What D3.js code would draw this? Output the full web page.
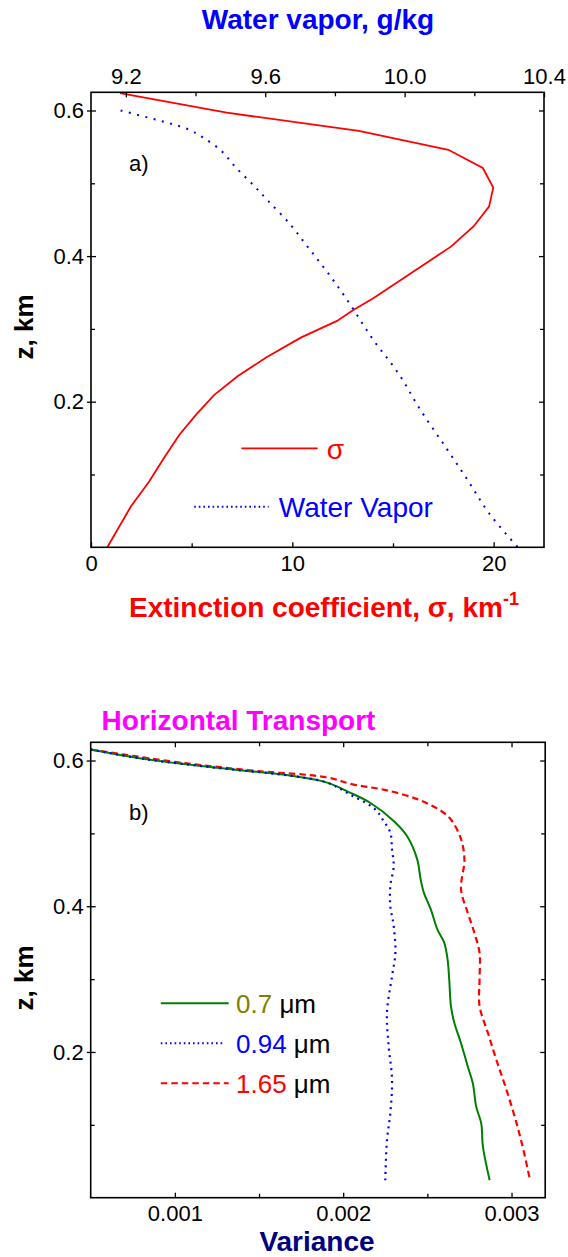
<!DOCTYPE html>
<html><head><meta charset="utf-8">
<script src="https://cdn.jsdelivr.net/npm/d3@7"></script>
<style>
html,body{margin:0;padding:0;background:#fff;}
svg{display:block;font-family:"Liberation Sans",Arial,sans-serif;}
</style></head>
<body>
<svg id="chart" width="568" height="1257"></svg>
<script>
// ---------- Panel a) data ----------
const sigmaZ   = [0.624,0.597,0.572,0.546,0.521,0.494,0.468,0.441,0.413,0.390,0.342,0.326,0.311,0.288,0.261,0.235,0.209,0.182,0.155,0.125,0.090,0.056,0.0];
const sigmaVal = [1.44,6.74,13.30,17.75,19.46,19.98,19.77,19.01,17.88,16.62,14.02,13.03,12.22,10.42,8.72,7.28,6.11,5.21,4.40,3.68,2.88,1.98,0.81];
const vaporZ   = [0.600,0.586,0.574,0.563,0.545,0.522,0.497,0.476,0.444,0.412,0.380,0.342,0.285,0.239,0.189,0.138,0.093,0.047,0.0];
const vaporVal = [9.185,9.297,9.380,9.421,9.473,9.515,9.567,9.608,9.671,9.723,9.775,9.832,9.910,9.982,10.045,10.117,10.180,10.242,10.325];
const sigmaTicks = [0,10,20], sigmaMinor = [5,15];
const vaporTicks = [9.2,9.6,10.0,10.4], vaporMinor = [9.4,9.8,10.2];
const zTicks = [0.2,0.4,0.6], zMinor = [0.1,0.3,0.5];

// ---------- Panel b) data ----------
const z07   = [0.615,0.602,0.590,0.579,0.570,0.556,0.542,0.517,0.496,0.464,0.437,0.418,0.396,0.368,0.350,0.327,0.299,0.263,0.240,0.212,0.180,0.157,0.125,0.102,0.070,0.024];
const var07 = [0.00050,0.00082,0.00125,0.00169,0.00190,0.00204,0.00216,0.00230,0.00238,0.00244,0.00246,0.00248,0.00252,0.00256,0.00260,0.00262,0.00263,0.00264,0.00266,0.00270,0.00274,0.00277,0.00279,0.00282,0.00283,0.00287];
const z094   = [0.615,0.602,0.590,0.579,0.570,0.5535,0.533,0.517,0.501,0.478,0.455,0.428,0.400,0.373,0.336,0.304,0.254,0.208,0.162,0.116,0.079,0.024];
const var094 = [0.00050,0.00082,0.00125,0.00169,0.00190,0.00204,0.00219,0.00224,0.00228,0.00229,0.00230,0.00228,0.00228,0.00230,0.00231,0.00229,0.00226,0.00227,0.00229,0.00228,0.00226,0.00225];
const z165   = [0.615,0.597,0.586,0.577,0.567,0.560,0.547,0.531,0.519,0.492,0.464,0.423,0.391,0.363,0.336,0.299,0.263,0.226,0.189,0.148,0.102,0.066,0.024];
const var165 = [0.00050,0.00104,0.00147,0.00190,0.00206,0.00224,0.00244,0.00258,0.00264,0.00270,0.00272,0.00270,0.00274,0.00278,0.00281,0.00281,0.00281,0.00286,0.00291,0.00297,0.00303,0.00307,0.00311];
const varTicks = [0.001,0.002,0.003], varMinor = [0.0015,0.0025];
const legendLabels = ["0.7","0.94","1.65"];

const svg = d3.select("#chart");
const FONT_TICK = 22;

function drawAxes(g, opts){
  const {x, y, xTicks, xMinor, xFmt, topScale, topTicks, topMinor, topFmt} = opts;
  const [x0,x1] = x.range(), [y0,y1] = y.range(); // y0 bottom, y1 top
  const hide = s => s.select(".domain").remove();
  const styleLbl = s => s.selectAll("text").attr("font-size",FONT_TICK).attr("font-family","'Liberation Sans',Arial,sans-serif").attr("fill","#000");
  const styleTick = s => s.selectAll("line").attr("stroke","#000").attr("stroke-width",1.3);
  // bottom
  g.append("g").attr("transform",`translate(0,${y0})`)
    .call(d3.axisBottom(x).tickValues(xTicks).tickFormat(xFmt).tickSizeInner(-5).tickSizeOuter(0).tickPadding(8))
    .call(hide).call(styleLbl).call(styleTick);
  g.append("g").attr("transform",`translate(0,${y0})`)
    .call(d3.axisBottom(x).tickValues(xMinor).tickFormat("").tickSizeInner(-4).tickSizeOuter(0))
    .call(hide).call(styleTick);
  // top
  if (topScale){
    g.append("g").attr("transform",`translate(0,${y1})`)
      .call(d3.axisTop(topScale).tickValues(topTicks).tickFormat(topFmt).tickSizeInner(-5).tickSizeOuter(0).tickPadding(8))
      .call(hide).call(styleLbl).call(styleTick);
    g.append("g").attr("transform",`translate(0,${y1})`)
      .call(d3.axisTop(topScale).tickValues(topMinor).tickFormat("").tickSizeInner(-4).tickSizeOuter(0))
      .call(hide).call(styleTick);
  } else {
    g.append("g").attr("transform",`translate(0,${y1})`)
      .call(d3.axisTop(x).tickValues(xTicks).tickFormat("").tickSizeInner(-5).tickSizeOuter(0))
      .call(hide).call(styleTick);
    g.append("g").attr("transform",`translate(0,${y1})`)
      .call(d3.axisTop(x).tickValues(xMinor).tickFormat("").tickSizeInner(-4).tickSizeOuter(0))
      .call(hide).call(styleTick);
  }
  // left
  g.append("g").attr("transform",`translate(${x0},0)`)
    .call(d3.axisLeft(y).tickValues(zTicks).tickFormat(d3.format(".1f")).tickSizeInner(4).tickSizeOuter(0).tickPadding(3))
    .call(hide).call(styleLbl).call(styleTick);
  g.append("g").attr("transform",`translate(${x0},0)`)
    .call(d3.axisLeft(y).tickValues(zTicks).tickFormat("").tickSizeInner(-5).tickSizeOuter(0))
    .call(hide).call(styleTick);
  g.append("g").attr("transform",`translate(${x0},0)`)
    .call(d3.axisLeft(y).tickValues(zMinor).tickFormat("").tickSizeInner(-4).tickSizeOuter(0))
    .call(hide).call(styleTick);
  // right
  g.append("g").attr("transform",`translate(${x1},0)`)
    .call(d3.axisRight(y).tickValues(zTicks).tickFormat("").tickSizeInner(-5).tickSizeOuter(0))
    .call(hide).call(styleTick);
  g.append("g").attr("transform",`translate(${x1},0)`)
    .call(d3.axisRight(y).tickValues(zMinor).tickFormat("").tickSizeInner(-4).tickSizeOuter(0))
    .call(hide).call(styleTick);
  // frame
  g.append("rect").attr("x",x0).attr("y",y1).attr("width",x1-x0).attr("height",y0-y1)
    .attr("fill","none").attr("stroke","#000").attr("stroke-width",1.6);
}

// ================= Panel a =================
const xS = d3.scaleLinear().domain([0,22.5]).range([91,544]);
const xW = d3.scaleLinear().domain([9.1,10.4]).range([91,544]);
const yA = d3.scaleLinear().domain([0,0.625]).range([547.3,92.3]);
const gA = svg.append("g");

const lineSigma = d3.line().x(d=>xS(d[0])).y(d=>yA(d[1]));
gA.append("path").datum(sigmaVal.map((v,i)=>[v,sigmaZ[i]]))
  .attr("d",lineSigma).attr("fill","none").attr("stroke","#ff0000").attr("stroke-width",1.8);
const lineVapor = d3.line().x(d=>xW(d[0])).y(d=>yA(d[1])).curve(d3.curveCatmullRom);
gA.append("path").datum(vaporVal.map((v,i)=>[v,vaporZ[i]]))
  .attr("d",lineVapor).attr("fill","none").attr("stroke","#0000ff").attr("stroke-width",2)
  .attr("stroke-dasharray","2,6.5");

drawAxes(gA,{x:xS,y:yA,xTicks:sigmaTicks,xMinor:sigmaMinor,xFmt:d3.format("d"),
  topScale:xW,topTicks:vaporTicks,topMinor:vaporMinor,topFmt:d3.format(".1f")});

gA.append("text").attr("x",318).attr("y",29).attr("text-anchor","middle")
  .attr("font-size",28).attr("font-weight","bold").attr("fill","#0000ff").text("Water vapor, g/kg");
const ext = gA.append("text").attr("x",129).attr("y",617)
  .attr("font-size",28).attr("font-weight","bold").attr("fill","#ff0000");
ext.append("tspan").text("Extinction coefficient, σ, km");
ext.append("tspan").attr("dy",-12).attr("font-size",18).text("-1");
gA.append("text").attr("transform","translate(33,327) rotate(-90)").attr("text-anchor","middle")
  .attr("font-size",26).attr("font-weight","bold").attr("fill","#000").text("z, km");
gA.append("text").attr("x",129).attr("y",171).attr("font-size",22).text("a)");
// legend a
gA.append("line").attr("x1",241.4).attr("x2",317.6).attr("y1",448.3).attr("y2",448.3)
  .attr("stroke","#ff0000").attr("stroke-width",1.8);
gA.append("text").attr("x",326.7).attr("y",459).attr("font-size",28).attr("fill","#ff0000").text("σ");
gA.append("line").attr("x1",194.2).attr("x2",268.6).attr("y1",506.7).attr("y2",506.7)
  .attr("stroke","#0000ff").attr("stroke-width",2).attr("stroke-dasharray","1.6,3");
gA.append("text").attr("x",278.8).attr("y",516.7).attr("font-size",28).attr("fill","#0000ff").text("Water Vapor");

// ================= Panel b =================
const xV = d3.scaleLinear().domain([0.0005,0.0032]).range([90.7,545.2]);
const yB = d3.scaleLinear().domain([0,0.625]).range([1197.7,742.3]);
const gB = svg.append("g");
const lineB = d3.line().x(d=>xV(d[0])).y(d=>yB(d[1])).curve(d3.curveCatmullRom);
const seriesB = [
  {v:var165,z:z165,color:"#ff0000",dash:"6.5,4",w:2.2},
  {v:var07,z:z07,color:"#007f00",dash:null,w:2},
  {v:var094,z:z094,color:"#0000ff",dash:"2,4.5",w:2.2}
];
seriesB.forEach(s=>{
  gB.append("path").datum(s.v.map((v,i)=>[v,s.z[i]]))
    .attr("d",lineB).attr("fill","none").attr("stroke",s.color).attr("stroke-width",s.w)
    .attr("stroke-dasharray",s.dash);
});
drawAxes(gB,{x:xV,y:yB,xTicks:varTicks,xMinor:varMinor,xFmt:d3.format(".3f")});

gB.append("text").attr("x",101.6).attr("y",730).attr("font-size",28).attr("font-weight","bold")
  .attr("fill","#ff00ff").text("Horizontal Transport");
gB.append("text").attr("x",317).attr("y",1251).attr("text-anchor","middle").attr("font-size",28)
  .attr("font-weight","bold").attr("fill","#000080").text("Variance");
gB.append("text").attr("transform","translate(33,978) rotate(-90)").attr("text-anchor","middle")
  .attr("font-size",26).attr("font-weight","bold").attr("fill","#000").text("z, km");
gB.append("text").attr("x",129).attr("y",820).attr("font-size",22).text("b)");
// legend b
const legB = [
  {lbl:legendLabels[0],color:"#007f00",tcolor:"#808000",dash:null,y:1003.3,x2:228.7,w:2},
  {lbl:legendLabels[1],color:"#0000ff",tcolor:"#0000ff",dash:"1.6,3",y:1043.3,x2:223.2,w:2},
  {lbl:legendLabels[2],color:"#ff0000",tcolor:"#ff0000",dash:"6.5,4",y:1083.3,x2:228.7,w:2}
];
legB.forEach(l=>{
  gB.append("line").attr("x1",160.8).attr("x2",l.x2).attr("y1",l.y).attr("y2",l.y)
    .attr("stroke",l.color).attr("stroke-width",l.w).attr("stroke-dasharray",l.dash);
  const t = gB.append("text").attr("x",236).attr("y",l.y+9.5).attr("font-size",26);
  t.append("tspan").attr("fill",l.tcolor).text(l.lbl);
  t.append("tspan").attr("fill","#000").text(" μm");
});
</script>
</body></html>
